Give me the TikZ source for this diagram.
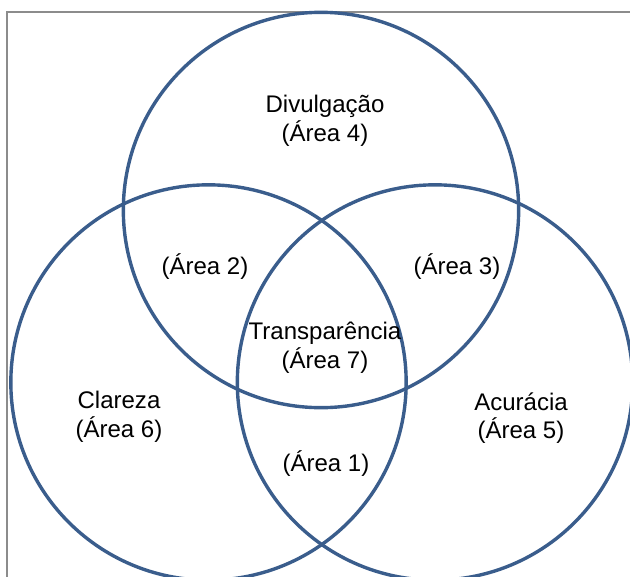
\documentclass[tikz,border=0pt]{standalone}
\usepackage{fontspec}
\setmainfont{Liberation Sans}
\definecolor{ringblue}{HTML}{3A5D8C}
\definecolor{framegray}{HTML}{8C8C8C}
\begin{document}
\begin{tikzpicture}
    [
    x=0.03cm, y=-0.03cm,
    ring/.style={circle,draw=ringblue,line width=2.9pt,inner sep=0pt,minimum size=11.86cm},
    area/.style={align=center,font=\fontsize{20.5}{24.5}\selectfont,inner sep=0pt}
    ]
    \useasboundingbox (0,0) rectangle (630,577);
    \clip (0,0) rectangle (630,577);
    \draw [framegray, line width=1.8pt] (7,700) -- (7,12) -- (700,12);
    \node (divulg) at (321,210) [ring] {};
    \node (clareza) at (208.5,382.5) [ring] {};
    \node (acur) at (435,382.5) [ring] {};
    \node (a4) at (325,121) [area] {Divulgação\\(Área 4)};
    \node (a2) at (205,267) [area] {(Área 2)};
    \node (a3) at (457,267) [area] {(Área 3)};
    \node (a7) at (325,348) [area] {Transparência\\(Área 7)};
    \node (a6) at (119,417) [area] {Clareza\\(Área 6)};
    \node (a5) at (521,418) [area] {Acurácia\\(Área 5)};
    \node (a1) at (326,464) [area] {(Área 1)};
  \end{tikzpicture}
\end{document}
